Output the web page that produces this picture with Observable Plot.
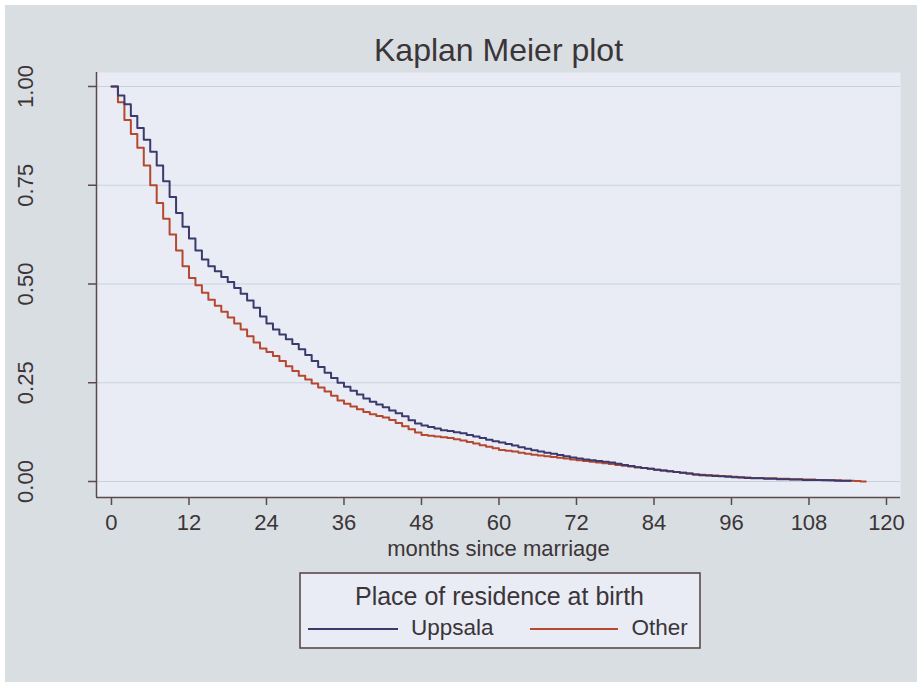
<!DOCTYPE html>
<html><head><meta charset="utf-8">
<script src="https://cdn.jsdelivr.net/npm/d3@7"></script>
<script src="https://cdn.jsdelivr.net/npm/@observablehq/plot@0.6"></script>
<style>
html,body{margin:0;padding:0;background:#ffffff;}
#wrap{position:relative;width:917px;height:682px;overflow:hidden;font-family:"Liberation Sans",Arial,sans-serif;}
#panel{position:absolute;left:5px;top:5px;width:912px;height:677px;background:#d9dee2;}
#chart{position:absolute;left:0;top:0;}
#legend{position:absolute;left:299px;top:572px;}
</style>
</head><body>
<div id="wrap"><div id="panel"></div><div id="chart"></div><div id="legend"></div></div>
<script>
// Kaplan-Meier survival estimates (month index = array position)
const uppsalaSurv = [1.000,0.977,0.955,0.925,0.895,0.865,0.835,0.800,0.760,0.720,0.680,0.645,0.615,0.585,0.562,0.545,0.532,0.518,0.505,0.490,
0.475,0.458,0.440,0.418,0.400,0.385,0.372,0.360,0.348,0.335,0.320,0.305,0.290,0.275,0.262,0.250,0.240,0.230,0.220,0.210,
0.202,0.195,0.188,0.180,0.173,0.165,0.155,0.147,0.142,0.138,0.134,0.130,0.128,0.125,0.122,0.118,0.114,0.110,0.106,0.102,
0.099,0.095,0.091,0.087,0.083,0.079,0.076,0.073,0.070,0.067,0.064,0.061,0.058,0.056,0.054,0.052,0.050,0.048,0.045,0.042,
0.039,0.036,0.034,0.032,0.030,0.028,0.026,0.024,0.022,0.020,0.018,0.016,0.015,0.014,0.013,0.012,0.011,0.010,0.009,0.008,
0.008,0.007,0.007,0.006,0.006,0.005,0.005,0.004,0.004,0.004,0.003,0.003,0.002,0.002];
const otherSurv = [1.000,0.960,0.915,0.880,0.845,0.800,0.750,0.705,0.665,0.625,0.585,0.545,0.515,0.497,0.478,0.460,0.445,0.430,0.415,0.400,
0.385,0.368,0.352,0.337,0.328,0.318,0.305,0.292,0.280,0.268,0.258,0.248,0.238,0.228,0.217,0.205,0.197,0.190,0.183,0.176,
0.170,0.166,0.162,0.156,0.148,0.140,0.132,0.124,0.118,0.116,0.114,0.112,0.110,0.107,0.104,0.100,0.096,0.092,0.088,0.084,
0.080,0.078,0.076,0.073,0.070,0.068,0.066,0.064,0.062,0.060,0.058,0.056,0.054,0.052,0.050,0.048,0.046,0.044,0.042,0.040,
0.038,0.036,0.034,0.032,0.030,0.028,0.026,0.024,0.022,0.020,0.018,0.017,0.016,0.015,0.014,0.013,0.012,0.011,0.010,0.009,
0.009,0.008,0.008,0.007,0.007,0.006,0.006,0.005,0.005,0.004,0.004,0.003,0.003,0.002,0.002,0.001,0.000];
const uppsalaEnd = 114.5;   // last follow-up time (months)
const otherEnd = 116.8;
const seriesNames = ["Uppsala", "Other"];
const seriesColors = ["#3c3a6c", "#b5482f"];
const xTicks = [0,12,24,36,48,60,72,84,96,108,120];
const yTicks = [0,0.25,0.5,0.75,1];
const titleText = "Kaplan Meier plot";
const xLabel = "months since marriage";
const legendTitle = "Place of residence at birth";

function rows(vals, end, name) {
  const r = vals.map((s, i) => ({t: i, s, g: name}));
  r.push({t: end, s: vals[vals.length - 1], g: name});
  return r;
}
const data = [...rows(otherSurv, otherEnd, "Other"), ...rows(uppsalaSurv, uppsalaEnd, "Uppsala")];

const ink = "#3b3538";
const axisColor = "#5b4a4c";
const xDom = [-2.32, 122.17];
const yDom = [-0.0405, 1.0354];

const chart = Plot.plot({
  width: 917, height: 682,
  marginLeft: 96, marginRight: 17, marginTop: 72, marginBottom: 185,
  style: {background: "transparent", fontFamily: "Liberation Sans, Arial, sans-serif", color: ink, overflow: "visible"},
  x: {domain: xDom, label: null},
  y: {domain: yDom, label: null},
  color: {domain: seriesNames, range: seriesColors},
  marks: [
    Plot.frame({fill: "#e9ecf5", stroke: "none"}),
    Plot.gridY(yTicks, {stroke: "#c9d0e0", strokeOpacity: 1, strokeWidth: 1}),
    Plot.line(data.filter(d => d.g === "Other"), {x: "t", y: "s", stroke: "g", curve: "step-after", strokeWidth: 2}),
    Plot.line(data.filter(d => d.g === "Uppsala"), {x: "t", y: "s", stroke: "g", curve: "step-after", strokeWidth: 2}),
    Plot.ruleX([xDom[0]], {stroke: axisColor, strokeWidth: 1.5}),
    Plot.ruleY([yDom[0]], {stroke: axisColor, strokeWidth: 1.5}),
    Plot.axisX(xTicks, {tickSize: 8, tickPadding: 9, fontSize: 22, label: null, stroke: axisColor, strokeWidth: 1.5, tickFormat: d => String(d), fill: ink}),
    Plot.axisY(yTicks, {tickSize: 8, tickFormat: () => "", label: null, stroke: axisColor, strokeWidth: 1.5}),
    Plot.text(yTicks, {y: d => d, text: d => d.toFixed(2), frameAnchor: "left", dx: -71, rotate: -90, fontSize: 22, textAnchor: "middle", lineAnchor: "middle", fill: ink}),
    Plot.text([titleText], {text: d => d, frameAnchor: "top", dy: -12, lineAnchor: "bottom", fontSize: 32, fill: ink}),
    Plot.text([xLabel], {text: d => d, frameAnchor: "bottom", dy: 58, lineAnchor: "bottom", fontSize: 22, fill: ink})
  ]
});
document.getElementById("chart").appendChild(chart);

// legend
const lg = d3.select("#legend").append("svg").attr("width", 403).attr("height", 78)
  .style("font-family", "Liberation Sans, Arial, sans-serif");
lg.append("rect").attr("x", 1).attr("y", 1).attr("width", 400).attr("height", 75)
  .attr("fill", "#e9ecf5").attr("stroke", axisColor).attr("stroke-width", 1.6);
lg.append("text").attr("x", 200.5).attr("y", 33).attr("text-anchor", "middle")
  .attr("font-size", 25).attr("fill", ink).text(legendTitle);
const keyX = [[9, 99, 112], [231, 319, 332.5]];
seriesNames.forEach((n, i) => {
  lg.append("line").attr("x1", keyX[i][0]).attr("x2", keyX[i][1]).attr("y1", 57).attr("y2", 57)
    .attr("stroke", seriesColors[i]).attr("stroke-width", 2);
  lg.append("text").attr("x", keyX[i][2]).attr("y", 63).attr("font-size", 22.5).attr("fill", ink).text(n);
});
</script>
</body></html>
